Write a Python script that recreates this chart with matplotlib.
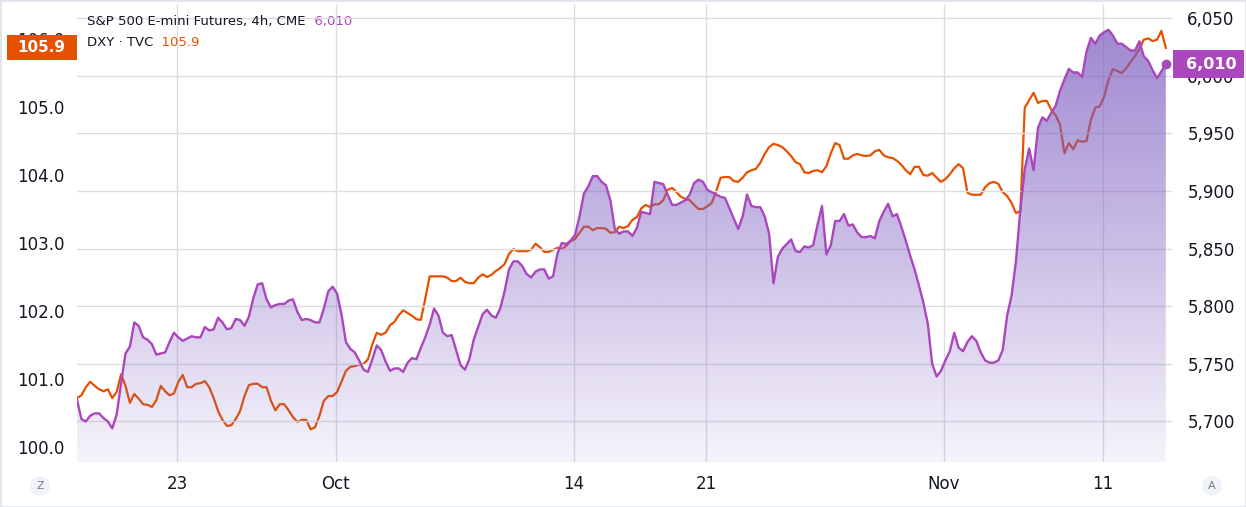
import numpy as np
import matplotlib
matplotlib.use("Agg")
import matplotlib.pyplot as plt
from matplotlib.patches import PathPatch, Rectangle, Circle
from matplotlib.ticker import FixedLocator, FuncFormatter

plt.rcParams['font.family'] = ['DejaVu Sans']

# 4h bars, 6 per trading day; x is in trading days counted from the Sep 23 session
BARS_PER_DAY = 6
START_DAY = -3.78

spx = [5719, 5702, 5700, 5705, 5707, 5707, 5703, 5700, 5694, 5706,
       5733, 5759, 5765, 5786, 5783, 5773, 5771, 5767, 5758, 5759,
       5760, 5769, 5777, 5773, 5770, 5772, 5774, 5773, 5773, 5782,
       5779, 5780, 5790, 5786, 5780, 5781, 5789, 5788, 5783, 5791,
       5807, 5819, 5820, 5806, 5799, 5801, 5802, 5802, 5805, 5806,
       5795, 5788, 5789, 5788, 5786, 5786, 5798, 5813, 5817, 5811,
       5793, 5769, 5763, 5760, 5753, 5745, 5743, 5754, 5766, 5762,
       5752, 5744, 5746, 5746, 5743, 5751, 5755, 5754, 5764, 5773,
       5784, 5798, 5792, 5777, 5774, 5775, 5762, 5749, 5745, 5754,
       5771, 5782, 5793, 5797, 5792, 5790, 5798, 5813, 5832, 5839,
       5839, 5835, 5828, 5825, 5830, 5832, 5832, 5824, 5826, 5846,
       5855, 5854, 5857, 5862, 5878, 5898, 5904, 5913, 5913, 5908,
       5905, 5892, 5867, 5863, 5865, 5865, 5861, 5868, 5882, 5881,
       5880, 5908, 5907, 5906, 5897, 5888, 5888, 5890, 5892, 5897,
       5907, 5910, 5908, 5901, 5899, 5897, 5895, 5894, 5885, 5876,
       5867, 5878, 5897, 5887, 5886, 5886, 5878, 5863, 5820, 5843,
       5850, 5854, 5858, 5848, 5847, 5852, 5851, 5853, 5871, 5887,
       5845, 5853, 5874, 5874, 5880, 5870, 5871, 5864, 5860, 5860,
       5861, 5859, 5874, 5882, 5889, 5878, 5880, 5869, 5857, 5844,
       5832, 5818, 5803, 5785, 5750, 5739, 5744, 5753, 5761, 5777,
       5764, 5761, 5769, 5774, 5770, 5760, 5753, 5751, 5751, 5753,
       5762, 5792, 5809, 5839, 5884, 5919, 5937, 5918, 5955, 5964,
       5961, 5968, 5974, 5987, 5997, 6006, 6003, 6003, 5999, 6021,
       6033, 6028, 6035, 6038, 6040, 6035, 6028, 6028, 6025, 6022,
       6022, 6030, 6017, 6013, 6005, 5998, 6004, 6010]

dxy = [100.72, 100.76, 100.88, 100.96, 100.90, 100.85, 100.82, 100.85, 100.72, 100.81,
       101.07, 100.90, 100.65, 100.78, 100.71, 100.63, 100.62, 100.59, 100.69, 100.90,
       100.82, 100.76, 100.79, 100.96, 101.06, 100.88, 100.88, 100.93, 100.94, 100.97,
       100.88, 100.72, 100.53, 100.40, 100.31, 100.32, 100.41, 100.53, 100.75, 100.91,
       100.93, 100.93, 100.88, 100.88, 100.68, 100.54, 100.63, 100.63, 100.54, 100.44,
       100.37, 100.40, 100.40, 100.26, 100.29, 100.46, 100.68, 100.75, 100.75, 100.81,
       100.96, 101.12, 101.18, 101.19, 101.21, 101.22, 101.29, 101.51, 101.68, 101.65,
       101.68, 101.79, 101.84, 101.94, 102.01, 101.97, 101.93, 101.88, 101.87, 102.18,
       102.51, 102.51, 102.51, 102.51, 102.49, 102.44, 102.44, 102.49, 102.43, 102.41,
       102.41, 102.49, 102.54, 102.50, 102.53, 102.59, 102.63, 102.69, 102.84, 102.91,
       102.88, 102.88, 102.88, 102.90, 102.99, 102.94, 102.87, 102.87, 102.90, 102.93,
       102.91, 102.96, 103.03, 103.06, 103.15, 103.24, 103.24, 103.19, 103.22, 103.22,
       103.21, 103.15, 103.16, 103.24, 103.22, 103.25, 103.34, 103.38, 103.51, 103.56,
       103.53, 103.57, 103.57, 103.63, 103.78, 103.81, 103.75, 103.68, 103.65, 103.63,
       103.56, 103.50, 103.50, 103.54, 103.59, 103.76, 103.96, 103.97, 103.97, 103.91,
       103.90, 103.96, 104.04, 104.07, 104.09, 104.18, 104.31, 104.41, 104.46, 104.44,
       104.41, 104.35, 104.28, 104.19, 104.16, 104.04, 104.03, 104.06, 104.07, 104.04,
       104.13, 104.32, 104.47, 104.44, 104.24, 104.24, 104.29, 104.31, 104.29, 104.28,
       104.29, 104.35, 104.37, 104.29, 104.26, 104.25, 104.21, 104.15, 104.07, 104.01,
       104.12, 104.12, 104.00, 103.99, 104.03, 103.96, 103.90, 103.94, 104.01, 104.10,
       104.16, 104.10, 103.74, 103.71, 103.71, 103.71, 103.82, 103.88, 103.90, 103.87,
       103.75, 103.69, 103.59, 103.44, 103.47, 104.99, 105.10, 105.21, 105.06, 105.09,
       105.09, 104.96, 104.88, 104.74, 104.32, 104.47, 104.38, 104.51, 104.49, 104.50,
       104.81, 104.99, 105.01, 105.15, 105.40, 105.56, 105.53, 105.50, 105.57, 105.66,
       105.75, 105.85, 105.99, 106.01, 105.97, 105.99, 106.12, 105.87]

tick_days = [0, 6, 15, 20, 29, 35]
tick_labels = ['23', 'Oct', '14', '21', 'Nov', '11']
dxy_ticks = [100, 101, 102, 103, 104, 105, 106]
spx_ticks = [5700, 5750, 5800, 5850, 5900, 5950, 6000, 6050]

PURPLE = '#ab47bc'
ORANGE = '#e65100'
TEXT = '#131722'
GRID = '#dcdde2'

x = START_DAY + np.arange(len(spx)) / BARS_PER_DAY
spx = np.array(spx)
dxy = np.array(dxy)

fig = plt.figure(figsize=(12.46, 5.07), dpi=100)
W, H = 1246, 507
ax = fig.add_axes([77 / W, (H - 462) / H, (1172 - 77) / W, (462 - 4) / H])
ax2 = ax.twinx()

ax.set_xlim(START_DAY, 37.62)
ax.set_ylim(99.78, 106.515)
ax2.set_ylim(5664.8, 6062.4)

# DXY line underneath the area
ax.plot(x, dxy, color=ORANGE, lw=1.6, zorder=3, solid_joinstyle='round')

# S&P area with vertical gradient
ylo, yhi = ax2.get_ylim()
grad = np.linspace(0, 1, 256)
rgba = np.zeros((256, 1, 4))
rgba[..., 0] = 120 / 255
rgba[..., 1] = 88 / 255
rgba[..., 2] = 190 / 255
rgba[:, 0, 3] = 0.07 + 0.68 * grad
im = ax2.imshow(rgba, aspect='auto', origin='lower',
                extent=[x[0], x[-1], ylo, yhi], zorder=1, interpolation='bilinear')
poly = ax2.fill_between(x, spx, ylo, facecolor='none', edgecolor='none')
clip = PathPatch(poly.get_paths()[0], transform=ax2.transData,
                 facecolor='none', edgecolor='none')
ax2.add_patch(clip)
im.set_clip_path(clip)
ax2.plot(x, spx, color=PURPLE, lw=1.7, zorder=4, solid_joinstyle='round')
ax2.plot(x[-1], spx[-1], 'o', color=PURPLE, ms=6, zorder=5)

ax.set_xlim(START_DAY, 37.62)
ax2.set_ylim(ylo, yhi)

# axes styling
for a in (ax, ax2):
    for s in a.spines.values():
        s.set_visible(False)
    a.tick_params(length=0, labelsize=12, labelcolor=TEXT)

ax.xaxis.set_major_locator(FixedLocator(tick_days))
ax.set_xticklabels(tick_labels)
ax.tick_params(axis='x', pad=9.5)
ax.grid(axis='x', color=GRID, lw=1)
ax.set_axisbelow(True)

ax.yaxis.set_major_locator(FixedLocator(dxy_ticks))
ax.yaxis.set_major_formatter(FuncFormatter(lambda v, p: f'{v:.1f}'))
ax.tick_params(axis='y', pad=9)

ax2.yaxis.set_major_locator(FixedLocator(spx_ticks))
ax2.yaxis.set_major_formatter(FuncFormatter(lambda v, p: f'{v:,.0f}'))
ax2.tick_params(axis='y', pad=11)
ax2.grid(axis='y', color=GRID, lw=1)
ax2.set_axisbelow(True)

# legend text
t1 = fig.text(87 / W, 1 - 22 / H, 'S&P 500 E-mini Futures, 4h, CME', fontsize=9.5,
              color=TEXT, va='center', ha='left')
ax.annotate(f'  {spx[-1]:,.0f}', xy=(1, 0.5), xycoords=t1, va='center', ha='left',
            fontsize=9.5, color=PURPLE)
t2 = fig.text(87 / W, 1 - 43 / H, 'DXY · TVC', fontsize=9.5, color=TEXT,
              va='center', ha='left')
ax.annotate(f'  {dxy[-1]:.1f}', xy=(1, 0.5), xycoords=t2, va='center', ha='left',
            fontsize=9.5, color=ORANGE)

# last-value boxes on the scales
fig.canvas.draw()
y_dxy = ax.transData.transform((x[-1], dxy[-1]))[1] / H
y_spx = ax2.transData.transform((x[-1], spx[-1]))[1] / H
bh = 25 / H
fig.patches.append(Rectangle((7 / W, y_dxy - bh / 2), 70 / W, bh, transform=fig.transFigure,
                             facecolor=ORANGE, edgecolor='none', zorder=10))
fig.text(41 / W, y_dxy, f'{dxy[-1]:.1f}', color='white', fontsize=11, fontweight='bold',
         ha='center', va='center', zorder=11)
bh2 = 28 / H
fig.patches.append(Rectangle((1173 / W, y_spx - bh2 / 2), 71 / W, bh2, transform=fig.transFigure,
                             facecolor=PURPLE, edgecolor='none', zorder=10))
fig.text(1211 / W, y_spx, f'{spx[-1]:,.0f}', color='white', fontsize=11.5, fontweight='bold',
         ha='center', va='center', zorder=11)

# corner buttons
for cx, letter in [(40, 'Z'), (1212, 'A')]:
    fig.patches.append(Circle((cx, 21), 10, transform=None, facecolor='#f0f3fa',
                              edgecolor='none', zorder=10))
    fig.text(cx / W, 21 / H, letter, fontsize=8, color='#787b86', ha='center',
             va='center', zorder=11)

# outer frame
fig.patches.append(Rectangle((0, 0), 1, 1, transform=fig.transFigure, facecolor='none',
                             edgecolor='#e0e3eb', lw=2, zorder=12))

fig.savefig('out.png', dpi=100, facecolor='white')
